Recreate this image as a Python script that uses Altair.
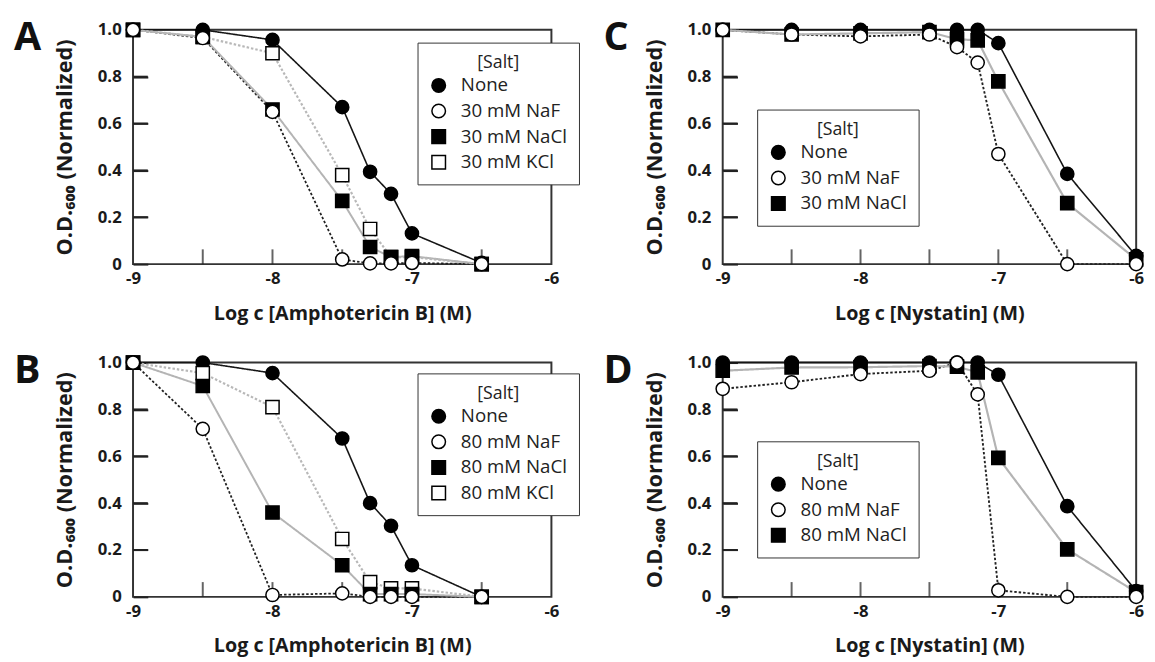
import altair as alt
import pandas as pd

FONT = "Open Sans"

# x positions (log10 of concentration, M)
X_AMB = [-9, -8.5, -8, -7.5, -7.3, -7.15, -7, -6.5]
X_NYS = [-9, -8.5, -8, -7.5, -7.3, -7.15, -7, -6.5, -6]

# Panel A: Amphotericin B, 30 mM salts
A_NONE = [1.0, 1.0, 0.957, 0.67, 0.394, 0.30, 0.131, 0.005]
A_NAF = [1.0, 0.965, 0.65, 0.02, 0.003, 0.003, 0.005, 0.0]
A_NACL = [1.0, 0.97, 0.66, 0.27, 0.073, 0.03, 0.034, 0.0]
A_KCL = [1.0, 0.97, 0.90, 0.38, 0.15, 0.03, 0.03, 0.0]

# Panel B: Amphotericin B, 80 mM salts
B_NONE = [1.0, 1.0, 0.955, 0.676, 0.40, 0.303, 0.135, 0.0]
B_NAF = [1.0, 0.717, 0.008, 0.015, 0.0, 0.0, 0.0, 0.0]
B_NACL = [1.0, 0.90, 0.36, 0.135, 0.012, 0.012, 0.012, 0.0]
B_KCL = [1.0, 0.955, 0.81, 0.247, 0.063, 0.036, 0.036, 0.0]

# Panel C: Nystatin, 30 mM salts
C_NONE = [1.0, 1.0, 1.0, 1.0, 1.0, 1.0, 0.943, 0.385, 0.035]
C_NAF = [1.0, 0.98, 0.972, 0.98, 0.926, 0.86, 0.47, 0.0, 0.0]
C_NACL = [1.0, 0.98, 0.985, 0.99, 0.96, 0.955, 0.78, 0.26, 0.02]

# Panel D: Nystatin, 80 mM salts
D_NONE = [1.0, 1.0, 1.0, 1.0, 1.0, 1.0, 0.948, 0.387, 0.025]
D_NAF = [0.888, 0.916, 0.951, 0.965, 1.0, 0.864, 0.028, 0.0, 0.0]
D_NACL = [0.965, 0.979, 0.98, 0.985, 0.983, 0.958, 0.593, 0.203, 0.02]

Y_TICKS = [0, 0.2, 0.4, 0.6, 0.8, 1.0]
Y_MINOR = [0.2, 0.4, 0.6, 0.8]
X_TICKS = [-9, -8, -7, -6]
X_MINOR = [-8.5, -8, -7.5, -7, -6.5]
X_START = -9

LINE_COLOR = {"None": "#151515", "NaF": "#222222", "NaCl": "#b4b4b4", "KCl": "#b8b8b8"}
DASH = {"None": [1, 0], "NaF": [2.5, 2], "NaCl": [1, 0], "KCl": [2.5, 2]}
LINE_W = {"None": 1.6, "NaF": 2.2, "NaCl": 1.5, "KCl": 2.0}
SHAPE = {"None": "circle", "NaF": "circle", "NaCl": "square", "KCl": "square"}
FILL = {"None": "black", "NaF": "white", "NaCl": "black", "KCl": "white"}
STROKE = {"None": "black", "NaF": "black", "NaCl": "black", "KCl": "black"}
SIZE = {"None": 180, "NaF": 180, "NaCl": 140, "KCl": 140}
ZORDER = {"None": 0, "KCl": 1, "NaCl": 2, "NaF": 3}

W, H = 425, 238


def label_of(key, conc):
    return "None" if key == "None" else f"{conc} mM {key}"


def panel(letter, xs, series, conc, drug, lx, ly, width):
    keys = list(series.keys())
    labels = [label_of(k, conc) for k in keys]
    rows = []
    for k in keys:
        for x, y in zip(xs, series[k]):
            rows.append({"x": x, "y": y, "s": label_of(k, conc), "k": k, "z": ZORDER[k]})
    df = pd.DataFrame(rows)

    xsc = alt.Scale(domain=[-9, -6], nice=False, zero=False)
    ysc = alt.Scale(domain=[0, 1], nice=False, zero=False)
    xenc = alt.X("x:Q", scale=xsc, axis=alt.Axis(
        values=X_TICKS, labelExpr="'-' + format(-datum.value, 'd')",
        title=f"Log c [{drug}] (M)", labelFlush=False, labelOverlap=False))
    yenc = alt.Y("y:Q", scale=ysc, axis=alt.Axis(
        values=Y_TICKS,
        labelExpr="datum.value == 0 ? '0' : format(datum.value, '.1f')",
        title="O.D.₆₀₀ (Normalized)", labelOverlap=False,
        ticks=True, tickSize={"expr": "-15"}, tickColor="#222", tickWidth=2,
        tickOpacity=1, labelPadding=27))

    def sk(d):  # style scales keyed by series key (no legend)
        return alt.Scale(domain=keys, range=[d[k] for k in keys])

    def sl(d):  # legend scales keyed by label
        return alt.Scale(domain=labels, range=[d[k] for k in keys])

    leg = alt.Legend(
        title="[Salt]", orient="none", legendX=lx, legendY=ly,
        titleAnchor="middle", titleFontWeight="normal", titleFontSize=18,
        titleFont=FONT, titleColor="#222", titlePadding=4,
        labelFont=FONT, labelFontSize=19, labelColor="#222", labelOffset=13,
        symbolSize=190, symbolStrokeColor="black", symbolStrokeWidth=1.5,
        rowPadding=5, padding=12, strokeColor="#333", fillColor="white",
        labelLimit=300)

    xt = alt.Chart(pd.DataFrame({"x": X_MINOR})).mark_tick(
        color="#222", thickness=2, orient="vertical").encode(
        x=xenc, y=alt.value(H - 7.5), size=alt.value(15))
    yt = alt.Chart(pd.DataFrame({"y": Y_MINOR, "x": [X_START] * len(Y_MINOR)})).mark_rule(
        color="#222", strokeWidth=2).encode(
        x=xenc, x2=alt.value(15), y=yenc)

    base = alt.Chart(df)
    lines = base.mark_line().encode(
        x=xenc, y=yenc,
        color=alt.Color("k:N", scale=sk(LINE_COLOR), legend=None),
        strokeDash=alt.StrokeDash("k:N", scale=sk(DASH), legend=None),
        strokeWidth=alt.StrokeWidth("k:N", scale=sk(LINE_W), legend=None),
        order="x:Q")
    points = base.mark_point(filled=True, opacity=1, strokeWidth=1.5).encode(
        x=xenc, y=yenc,
        shape=alt.Shape("s:N", scale=sl(SHAPE), legend=leg),
        fill=alt.Fill("s:N", scale=sl(FILL), legend=leg),
        stroke=alt.Stroke("s:N", scale=sl(STROKE), legend=leg),
        size=alt.Size("k:N", scale=sk(SIZE), legend=None),
        order=alt.Order("z:Q"))
    let = alt.Chart(pd.DataFrame({"t": [letter]})).mark_text(
        align="left", baseline="alphabetic", fontSize=40, fontWeight="bold",
        font=FONT, color="#111").encode(
        text="t:N", x=alt.value(-121), y=alt.value(21))
    return alt.layer(xt, yt, lines, points, let).properties(width=width, height=H)


pA = panel("A", X_AMB, {"None": A_NONE, "NaF": A_NAF, "NaCl": A_NACL, "KCl": A_KCL},
           30, "Amphotericin B", 289, 13, W)
pB = panel("B", X_AMB, {"None": B_NONE, "NaF": B_NAF, "NaCl": B_NACL, "KCl": B_KCL},
           80, "Amphotericin B", 289, 11, W)
pC = panel("C", X_NYS, {"None": C_NONE, "NaF": C_NAF, "NaCl": C_NACL},
           30, "Nystatin", 35, 81, 420)
pD = panel("D", X_NYS, {"None": D_NONE, "NaF": D_NAF, "NaCl": D_NACL},
           80, "Nystatin", 35, 80, 420)

IND = dict(shape="independent", fill="independent", stroke="independent",
           size="independent", color="independent", strokeDash="independent",
           strokeWidth="independent")
LIND = dict(shape="independent", fill="independent", stroke="independent")


def row(a, b):
    return alt.hconcat(a, b, spacing=22).resolve_scale(**IND).resolve_legend(**LIND)


chart = alt.vconcat(row(pA, pC), row(pB, pD), spacing=27).resolve_scale(
    **IND).resolve_legend(**LIND).properties(
    padding={"left": 5, "top": 5, "right": 0, "bottom": 0}
).configure_view(stroke="#333", strokeWidth=2).configure_axis(
    domain=False, grid=False,
    labelFont=FONT, labelFontSize=17, labelFontWeight="bold", labelColor="#1a1a1a",
    titleFont=FONT, titleFontSize=20, titleFontWeight="bold", titleColor="#1a1a1a"
).configure_axisX(ticks=False, labelPadding=7, titlePadding=17).configure_axisY(
    titlePadding=21, titleFontSize=22)

chart.save("out.html", embed_options={"renderer": "svg", "actions": False})
